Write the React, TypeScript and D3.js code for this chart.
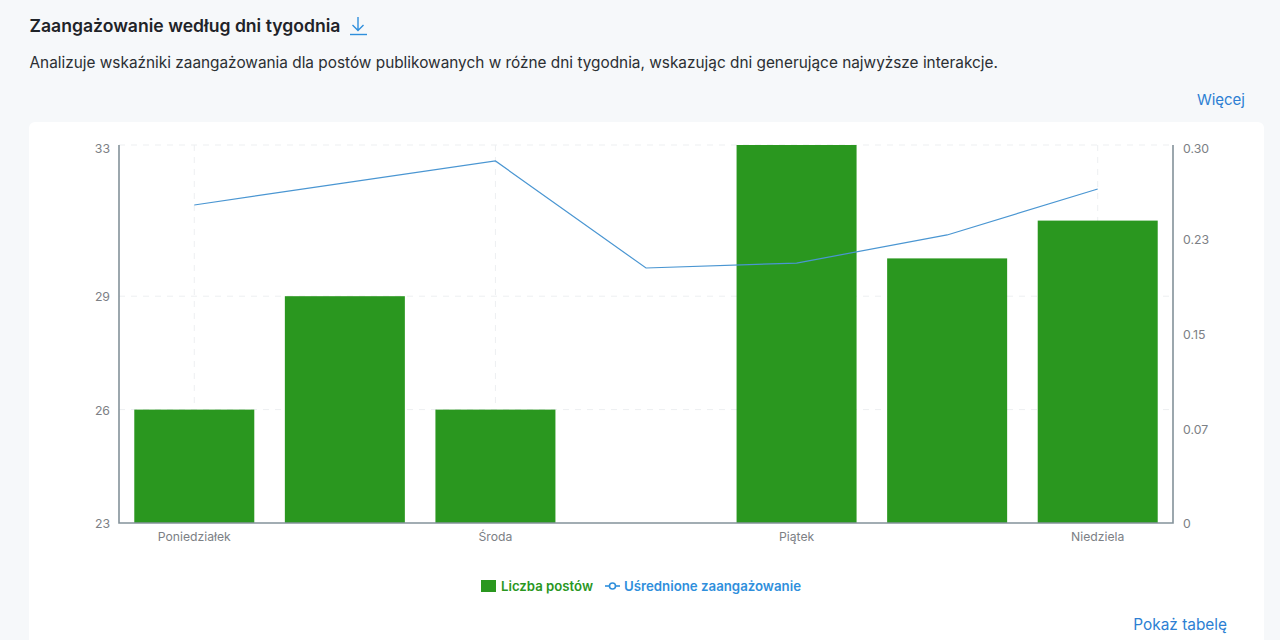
import React from "react";
import * as d3 from "d3";

const days = ["Poniedziałek", "Wtorek", "Środa", "Czwartek", "Piątek", "Sobota", "Niedziela"];
const shownDays = ["Poniedziałek", "Środa", "Piątek", "Niedziela"];
const posts = [26, 29, 26, 23, 33, 30, 31];
const engagement = [0.2524, 0.27, 0.2873, 0.2024, 0.2063, 0.2286, 0.2651];
const leftTicks = [23, 26, 29, 33];
const rightTicks = [0, 0.075, 0.15, 0.225, 0.3];
const rightLabels = ["0", "0.07", "0.15", "0.23", "0.30"];

const FONT = "Inter, 'Noto Sans', sans-serif";
const GREEN = "#2a971f";
const BLUE = "#2f8fdc";
const L = 119, R = 1173, T = 145, B = 523;

export default function App() {
  const x = d3.scaleBand<string>().domain(days).range([L, R]);
  const yL = d3.scaleLinear().domain([23, 33]).range([B, T]);
  const yR = d3.scaleLinear().domain([0, 0.3]).range([B, T]);
  const cx = (d: string) => (x(d) as number) + x.bandwidth() / 2;
  const barW = 120;
  const line = d3.line<number>().x((_, i) => cx(days[i])).y((v) => yR(v));

  return (
    <svg width={1280} height={640} style={{ position: "fixed", left: 0, top: 0, display: "block" }} fontFamily={FONT}>
      <rect width={1280} height={640} fill="#f6f8fa" />
      <rect x={29} y={122} width={1235} height={540} rx={6} fill="#ffffff" />

      <text x={29.5} y={31.5} fontSize={17.6} fontWeight={600} fill="#1f2328">Zaangażowanie według dni tygodnia</text>
      <g stroke="#2f8fdc" strokeWidth={1.4} fill="none">
        <path d="M358 17 V30 M352.5 25 L358 30.5 L363.5 25" />
        <path d="M350 34.5 H367" />
      </g>
      <text x={29.5} y={68} fontSize={15.36} fill="#2b2f33">Analizuje wskaźniki zaangażowania dla postów publikowanych w różne dni tygodnia, wskazując dni generujące najwyższe interakcje.</text>
      <text x={1245} y={105} fontSize={15} textAnchor="end" fill="#2d7fd3">Więcej</text>
      <text x={1227} y={630} fontSize={15.4} textAnchor="end" fill="#2d7fd3">Pokaż tabelę</text>

      <g stroke="#edeff1" strokeWidth={1} strokeDasharray="6 6">
        {leftTicks.filter((t) => t !== 23).map((t) => (
          <line key={t} x1={L} x2={R} y1={yL(t)} y2={yL(t)} />
        ))}
        {shownDays.map((d) => (
          <line key={d} x1={cx(d)} x2={cx(d)} y1={T} y2={B} />
        ))}
      </g>

      {posts.map((v, i) => (
        <rect key={days[i]} x={cx(days[i]) - barW / 2} y={yL(v)} width={barW} height={B - yL(v)} fill={GREEN} />
      ))}

      <path d={line(engagement) as string} fill="none" stroke="#4a96d2" strokeWidth={1.2} />

      <path d={`M${L} ${T} V${B} H${R} V${T}`} fill="none" stroke="#84929a" strokeWidth={1.6} />

      {leftTicks.map((t) => (
        <text key={t} x={110} y={yL(t) + (t === 33 ? 8 : 5)} fontSize={12.3} textAnchor="end" fill="#7c8085">{t}</text>
      ))}
      {rightTicks.map((t, i) => (
        <text key={t} x={1183} y={yR(t) + (t === 0.3 ? 8 : t === 0.225 ? 4 : 5)} fontSize={12.3} fill="#7c8085">{rightLabels[i]}</text>
      ))}
      {shownDays.map((d) => (
        <text key={d} x={cx(d)} y={541} fontSize={12.2} textAnchor="middle" fill="#7c8085">{d}</text>
      ))}

      <rect x={481} y={580} width={15} height={12} fill={GREEN} />
      <text x={501} y={591} fontSize={13.2} fontWeight={600} fill={GREEN}>Liczba postów</text>
      <line x1={605} x2={620} y1={586} y2={586} stroke={BLUE} strokeWidth={1.6} />
      <circle cx={612.5} cy={586} r={3} fill="#fff" stroke={BLUE} strokeWidth={1.6} />
      <text x={624} y={591} fontSize={13.25} fontWeight={600} fill={BLUE}>Uśrednione zaangażowanie</text>
    </svg>
  );
}
